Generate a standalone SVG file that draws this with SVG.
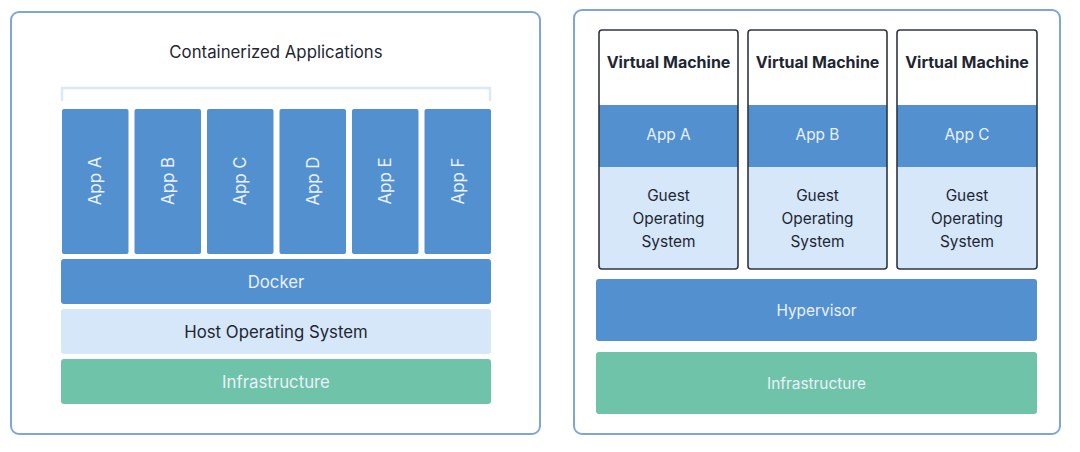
<svg xmlns="http://www.w3.org/2000/svg" width="1080" height="452" viewBox="0 0 1080 452">
<style>
.panel{fill:#ffffff;stroke:#7ea6da;stroke-width:2}
.blue{fill:#5290d0}
.light{fill:#d5e7f8}
.green{fill:#6fc3a8}
.vm{fill:none;stroke:#2f3642;stroke-width:1.6}
.t{font-family:Inter,"Liberation Sans",sans-serif;font-size:16.8px;text-anchor:middle;dominant-baseline:central}
.r{font-size:15.4px}
.w{fill:#eaf1fb}
.d{fill:#1f2633}
.b{font-weight:700;font-size:16px}
</style>
<rect width="1080" height="452" fill="#ffffff"/>
<g id="containers-panel">
<rect class="panel" x="11" y="12" width="529" height="422" rx="8"/>
<text class="t d" x="276" y="52">Containerized Applications</text>
<path d="M62 101 V88 H490 V101" fill="none" stroke="#dbe9f7" stroke-width="2.5"/>
</g>
<g id="app-a"><rect class="blue" x="62" y="109" width="66.5" height="145" rx="2"/><text class="t w" transform="translate(95.2 181) rotate(-90)">App A</text></g>
<g id="app-b"><rect class="blue" x="134.5" y="109" width="66.5" height="145" rx="2"/><text class="t w" transform="translate(167.7 181) rotate(-90)">App B</text></g>
<g id="app-c"><rect class="blue" x="207" y="109" width="66.5" height="145" rx="2"/><text class="t w" transform="translate(240.2 181) rotate(-90)">App C</text></g>
<g id="app-d"><rect class="blue" x="279.5" y="109" width="66.5" height="145" rx="2"/><text class="t w" transform="translate(312.7 181) rotate(-90)">App D</text></g>
<g id="app-e"><rect class="blue" x="352" y="109" width="66.5" height="145" rx="2"/><text class="t w" transform="translate(385.2 181) rotate(-90)">App E</text></g>
<g id="app-f"><rect class="blue" x="424.5" y="109" width="66.5" height="145" rx="2"/><text class="t w" transform="translate(457.7 181) rotate(-90)">App F</text></g>
<g id="docker"><rect class="blue" x="61" y="259" width="430" height="45" rx="3"/><text class="t w" x="276" y="282">Docker</text></g>
<g id="host-os"><rect class="light" x="61" y="309" width="430" height="45" rx="3"/><text class="t d" x="276" y="332">Host Operating System</text></g>
<g id="infra-left"><rect class="green" x="61" y="359" width="430" height="45" rx="3"/><text class="t w" x="276" y="382">Infrastructure</text></g>

<g id="vm-panel">
<rect class="panel" x="574" y="10" width="486" height="424" rx="8"/>
</g>
<g id="vm-1">
<rect fill="#fff" x="599" y="30" width="139" height="75"/>
<rect class="blue" x="599" y="105" width="139" height="62"/>
<rect class="light" x="599" y="167" width="139" height="102"/>
<rect class="vm" x="599" y="30" width="139" height="239" rx="3"/>
<text class="t d b" x="668.5" y="62">Virtual Machine</text>
<text class="t r w" x="668.5" y="134">App A</text>
<text class="t r d" x="668.5" y="195">Guest</text>
<text class="t r d" x="668.5" y="218">Operating</text>
<text class="t r d" x="668.5" y="241">System</text>
</g>
<g id="vm-2">
<rect fill="#fff" x="748" y="30" width="139" height="75"/>
<rect class="blue" x="748" y="105" width="139" height="62"/>
<rect class="light" x="748" y="167" width="139" height="102"/>
<rect class="vm" x="748" y="30" width="139" height="239" rx="3"/>
<text class="t d b" x="817.5" y="62">Virtual Machine</text>
<text class="t r w" x="817.5" y="134">App B</text>
<text class="t r d" x="817.5" y="195">Guest</text>
<text class="t r d" x="817.5" y="218">Operating</text>
<text class="t r d" x="817.5" y="241">System</text>
</g>
<g id="vm-3">
<rect fill="#fff" x="897" y="30" width="140" height="75"/>
<rect class="blue" x="897" y="105" width="140" height="62"/>
<rect class="light" x="897" y="167" width="140" height="102"/>
<rect class="vm" x="897" y="30" width="140" height="239" rx="3"/>
<text class="t d b" x="967" y="62">Virtual Machine</text>
<text class="t r w" x="967" y="134">App C</text>
<text class="t r d" x="967" y="195">Guest</text>
<text class="t r d" x="967" y="218">Operating</text>
<text class="t r d" x="967" y="241">System</text>
</g>
<g id="hypervisor"><rect class="blue" x="596" y="279" width="441" height="62" rx="3"/><text class="t r w" x="816.5" y="310">Hypervisor</text></g>
<g id="infra-right"><rect class="green" x="596" y="352" width="441" height="62" rx="3"/><text class="t r w" x="816.5" y="383">Infrastructure</text></g>
<g id="connectors"></g>
</svg>
